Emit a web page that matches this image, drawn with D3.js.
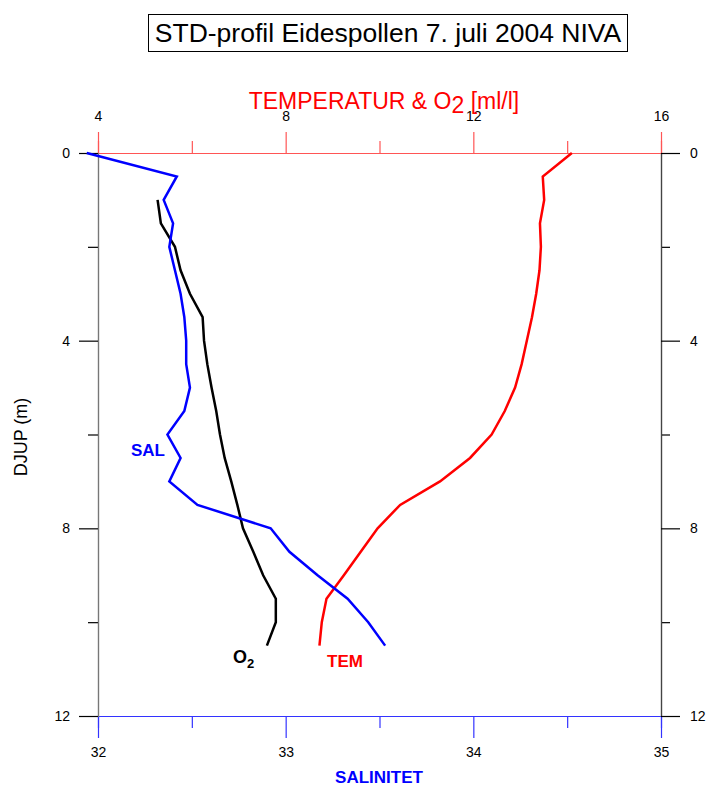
<!DOCTYPE html>
<html>
<head>
<meta charset="utf-8">
<script src="https://cdn.jsdelivr.net/npm/d3@7"></script>
<style>
  body { margin: 0; background: #fff; }
  svg { font-family: "Liberation Sans", Arial, sans-serif; }
</style>
</head>
<body>
<svg id="main" width="713" height="787"></svg>
<script>
// depth (m) for each series
const salDepth = [0, 0.5, 1, 1.5, 2, 2.5, 3, 3.5, 4, 4.5, 5, 5.5, 6, 6.5, 7, 7.5, 8, 8.5, 9, 9.5, 10, 10.5];
const salinity = [31.94, 32.42, 32.35, 32.40, 32.38, 32.41, 32.44, 32.46, 32.47, 32.47, 32.49, 32.46, 32.37, 32.44, 32.38, 32.53, 32.92, 33.02, 33.17, 33.33, 33.44, 33.53];

const temDepth = [0, 0.5, 1, 1.5, 2, 2.5, 3, 3.5, 4, 4.5, 5, 5.5, 6, 6.5, 7, 7.5, 8, 8.5, 9, 9.5, 10, 10.5];
const temperature = [14.10, 13.48, 13.51, 13.42, 13.44, 13.41, 13.34, 13.25, 13.14, 13.03, 12.89, 12.67, 12.39, 11.93, 11.29, 10.44, 9.96, 9.60, 9.24, 8.87, 8.77, 8.72];

const o2Depth = [1, 1.5, 2, 2.5, 3, 3.5, 4, 4.5, 5, 5.5, 6, 6.5, 7, 7.5, 8, 8.5, 9, 9.5, 10, 10.5];
const oxygen = [5.27, 5.34, 5.64, 5.76, 5.96, 6.23, 6.26, 6.33, 6.42, 6.52, 6.60, 6.70, 6.84, 6.97, 7.09, 7.31, 7.52, 7.79, 7.79, 7.60];

const depthTicks = [0, 4, 8, 12];
const depthMinor = [2, 6, 10];
const tempTicks = [4, 8, 12, 16];
const tempMinor = [6, 10, 14];
const salTicks = [32, 33, 34, 35];
const salMinor = [32.5, 33.5, 34.5];

const pos = { left: 98, top: 153, right: 661, bottom: 716 };

const svg = d3.select('#main');

const y = d3.scaleLinear().domain([0, 12]).range([pos.top, pos.bottom]);
const xTem = d3.scaleLinear().domain([4, 16]).range([pos.left, pos.right]);
const xSal = d3.scaleLinear().domain([32, 35]).range([pos.left, pos.right]);

// title
svg.append('rect')
    .attr('x', 148.5).attr('y', 14.5)
    .attr('width', 479).attr('height', 37)
    .attr('fill', 'none').attr('stroke', '#000').attr('stroke-width', 1);
svg.append('text')
    .attr('x', 388).attr('y', 42)
    .attr('text-anchor', 'middle')
    .attr('font-size', 26.5)
    .text('STD-profil Eidespollen 7. juli 2004 NIVA');

function styleAxis(g, lineColor, tickColor) {
    g.select('.domain').attr('stroke', lineColor).attr('stroke-width', 1.2);
    g.selectAll('.tick line').attr('stroke', tickColor).attr('stroke-width', 1.2);
    g.selectAll('.tick text').attr('fill', '#000')
        .attr('font-size', 14).attr('font-family', 'Liberation Sans');
}

// top axis (temperature & O2)
const topMinor = svg.append('g')
    .attr('transform', `translate(0,${pos.top})`)
    .call(d3.axisTop(xTem).tickValues(tempMinor).tickSize(12).tickFormat(''));
styleAxis(topMinor, '#f55', '#f55');
const topAxis = svg.append('g')
    .attr('transform', `translate(0,${pos.top})`)
    .call(d3.axisTop(xTem).tickValues(tempTicks).tickSizeInner(21).tickSizeOuter(0).tickPadding(11));
styleAxis(topAxis, '#f55', '#f55');

// bottom axis (salinity)
const bottomMinor = svg.append('g')
    .attr('transform', `translate(0,${pos.bottom})`)
    .call(d3.axisBottom(xSal).tickValues(salMinor).tickSize(12).tickFormat(''));
styleAxis(bottomMinor, '#33f', '#33f');
const bottomAxis = svg.append('g')
    .attr('transform', `translate(0,${pos.bottom})`)
    .call(d3.axisBottom(xSal).tickValues(salTicks).tickFormat(d3.format('d'))
        .tickSizeInner(22).tickSizeOuter(0).tickPadding(9));
styleAxis(bottomAxis, '#33f', '#33f');

// left axis
const leftMinor = svg.append('g')
    .attr('transform', `translate(${pos.left},0)`)
    .call(d3.axisLeft(y).tickValues(depthMinor).tickSize(10).tickFormat(''));
styleAxis(leftMinor, '#777', '#000');
const leftAxis = svg.append('g')
    .attr('transform', `translate(${pos.left},0)`)
    .call(d3.axisLeft(y).tickValues(depthTicks).tickSizeInner(19).tickSizeOuter(0).tickPadding(9));
styleAxis(leftAxis, '#777', '#000');

// right axis
const rightMinor = svg.append('g')
    .attr('transform', `translate(${pos.right},0)`)
    .call(d3.axisRight(y).tickValues(depthMinor).tickSize(9).tickFormat(''));
styleAxis(rightMinor, '#444', '#000');
const rightAxis = svg.append('g')
    .attr('transform', `translate(${pos.right},0)`)
    .call(d3.axisRight(y).tickValues(depthTicks).tickSizeInner(19).tickSizeOuter(0).tickPadding(10));
styleAxis(rightAxis, '#444', '#000');

// axis titles
const topTitle = svg.append('text')
    .attr('x', 384).attr('y', 109)
    .attr('text-anchor', 'middle')
    .attr('font-size', 23)
    .attr('fill', '#f00');
topTitle.append('tspan').text('TEMPERATUR & O');
topTitle.append('tspan').attr('dy', 4).text('2');
topTitle.append('tspan').attr('dy', -4).text(' [ml/l]');

svg.append('text')
    .attr('x', 379).attr('y', 783)
    .attr('text-anchor', 'middle')
    .attr('font-size', 17).attr('font-weight', 'bold')
    .attr('fill', '#00f')
    .text('SALINITET');

svg.append('text')
    .attr('transform', 'translate(27,437) rotate(-90)')
    .attr('text-anchor', 'middle')
    .attr('font-size', 18)
    .text('DJUP (m)');

// profiles
const line = d3.line();
const salPts = salDepth.map((d, i) => [xSal(salinity[i]), y(d)]);
const temPts = temDepth.map((d, i) => [xTem(temperature[i]), y(d)]);
const o2Pts = o2Depth.map((d, i) => [xTem(oxygen[i]), y(d)]);

svg.append('path').attr('d', line(o2Pts))
    .attr('fill', 'none').attr('stroke', '#000').attr('stroke-width', 2.5);
svg.append('path').attr('d', line(temPts))
    .attr('fill', 'none').attr('stroke', '#f00').attr('stroke-width', 2.5);
svg.append('path').attr('d', line(salPts))
    .attr('fill', 'none').attr('stroke', '#00f').attr('stroke-width', 2.5);

// series labels
svg.append('text')
    .attr('x', 148).attr('y', 456)
    .attr('text-anchor', 'middle')
    .attr('font-size', 17).attr('font-weight', 'bold')
    .attr('fill', '#00f')
    .text('SAL');
svg.append('text')
    .attr('x', 345).attr('y', 667)
    .attr('text-anchor', 'middle')
    .attr('font-size', 17).attr('font-weight', 'bold')
    .attr('fill', '#f00')
    .text('TEM');
const o2Label = svg.append('text')
    .attr('x', 233).attr('y', 663)
    .attr('font-size', 18).attr('font-weight', 'bold')
    .attr('fill', '#000');
o2Label.append('tspan').text('O');
o2Label.append('tspan').attr('dy', 5).attr('font-size', 13).text('2');
</script>
</body>
</html>
